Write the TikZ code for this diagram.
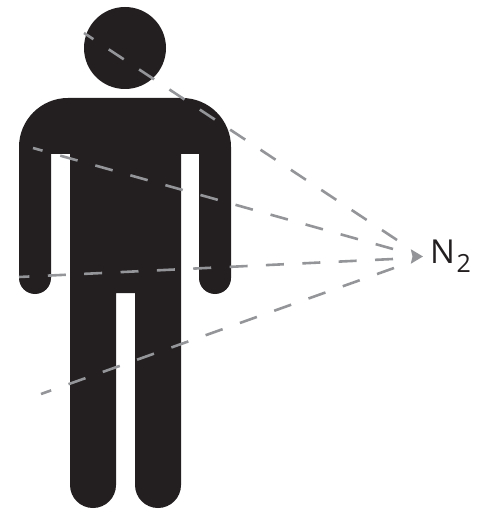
\documentclass[tikz,border=0pt]{standalone}
\usepackage{fontspec}
\setmainfont{Open Sans}
\usetikzlibrary{arrows.meta}
\definecolor{bodyblack}{HTML}{231F20}
\definecolor{rayGray}{HTML}{939598}
\tikzset{
  figure/.style={fill=bodyblack,draw=none},
  ray/.style={draw=rayGray,line width=2.6pt,dash pattern=on 18pt off 18.4pt},
  raytip/.style={draw=rayGray,line width=2.6pt,-{Stealth[length=12pt,width=14pt,inset=1.5pt]},shorten >=0pt},
  gaslabel/.style={anchor=base west,inner sep=0pt,text=bodyblack,font=\fontsize{33}{33}\selectfont}
}
\begin{document}
\begin{tikzpicture}[x=1pt,y=-1pt]
\useasboundingbox (0,0) rectangle (480,510);
% head
\fill[figure] (125,48) circle[radius=41];
% body
\fill[figure] (68,98) -- (182,98)
  arc[start angle=-90,end angle=0,radius=49] -- (231,278)
  arc[start angle=0,end angle=180,radius=16] -- (199,154) -- (181,154) -- (181,485)
  arc[start angle=0,end angle=180,radius=23] -- (135,293) -- (116,293) -- (116,485)
  arc[start angle=0,end angle=180,radius=23] -- (70,154) -- (51,154) -- (51,278)
  arc[start angle=0,end angle=180,radius=16] -- (19,147)
  arc[start angle=180,end angle=270,radius=49] -- cycle;
% rays
\coordinate (o1) at (84,33);   \coordinate (i1) at (397,240);
\coordinate (o2) at (33,148);  \coordinate (i2) at (393,249);
\coordinate (o3) at (19,277);  \coordinate (i3) at (393,259);
\coordinate (o4) at (41,394);  \coordinate (i4) at (394,268);
\coordinate (ts) at (414,256.5); \coordinate (tip) at (423,256.5);
\draw[ray] (i1) -- (o1);
\draw[ray] (i2) -- (o2);
\draw[ray] (i3) -- (o3);
\draw[ray] (i4) -- (o4);
\draw[raytip] (ts) -- (tip);
\node[gaslabel] (n2) at (430,263) {N\kern1.5pt\raisebox{-9pt}{\fontsize{25}{25}\selectfont 2}};
\end{tikzpicture}
\end{document}
